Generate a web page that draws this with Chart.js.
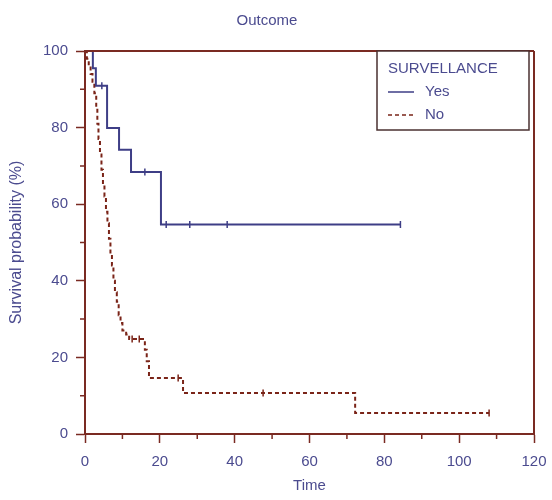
<!DOCTYPE html>
<html>
<head>
<meta charset="utf-8">
<script src="https://cdn.jsdelivr.net/npm/chart.js@4.4.0/dist/chart.umd.min.js"></script>
<style>
  body { margin: 0; background: #fff; }
  #wrap { width: 552px; height: 500px; }
</style>
</head>
<body>
<div id="wrap"><canvas id="kmChart" width="552" height="500"></canvas></div>
<script>
// Kaplan-Meier curves (time, survival %)
const yesTime = [0, 2.1, 2.9, 5.9, 9.1, 12.3, 20.3, 84.3];
const yesSurv = [100, 95.5, 90.9, 79.9, 74.2, 68.4, 54.7, 54.7];
const yesCensorTime = [4.5, 16, 21.7, 28, 38, 84.3];
const yesCensorSurv = [90.9, 68.4, 54.7, 54.7, 54.7, 54.7];

const noTime = [0, 0.5, 1, 1.5, 2, 2.5, 3, 3.3, 3.6, 4, 4.4, 4.8, 5.2, 5.6, 6, 6.4, 6.8, 7.2, 7.6, 8, 8.5, 9, 9.5, 10, 11, 11.8, 16, 16.5, 17.1, 26.2, 72.2, 108];
const noSurv = [100, 98, 96, 94, 92, 89, 85, 81, 77, 73, 69, 65, 62, 58, 55, 51, 47, 44, 40, 37, 34.5, 31, 29, 27, 26, 24.8, 22, 19, 14.6, 10.7, 5.5, 5.5];
const noCensorTime = [12.6, 14.5, 24.9, 47.6, 108];
const noCensorSurv = [24.8, 24.8, 14.6, 10.7, 5.5];

const seriesNames = ['Yes', 'No'];
const legendTitle = 'SURVELLANCE';
const chartTitle = 'Outcome';
const xTitle = 'Time';
const yTitle = 'Survival probability (%)';
const xTicks = [0, 20, 40, 60, 80, 100, 120];
const yTicks = [0, 20, 40, 60, 80, 100];

const axisColor = '#7a2a22';
const textColor = '#4b4b8f';
const yesColor = '#3e3e86';
const noColor = '#7a2418';

const pts = (xs, ys) => xs.map((x, i) => ({ x: x, y: ys[i] }));

// minor ticks, frame on top/right, and the boxed legend
const framePlugin = {
  id: 'frame',
  afterDraw(chart) {
    const c = chart.ctx;
    const a = chart.chartArea;
    const xs = chart.scales.x, ys = chart.scales.y;
    c.save();
    c.strokeStyle = axisColor;
    c.lineWidth = 2;
    c.beginPath();
    c.moveTo(a.left, a.top); c.lineTo(a.right, a.top);
    c.moveTo(a.right, a.top); c.lineTo(a.right, a.bottom);
    c.stroke();
    c.lineWidth = 1.5;
    c.beginPath();
    for (let v = 10; v < 120; v += 20) {
      const px = xs.getPixelForValue(v);
      c.moveTo(px, a.bottom); c.lineTo(px, a.bottom + 5);
    }
    for (let v = 10; v < 100; v += 20) {
      const py = ys.getPixelForValue(v);
      c.moveTo(a.left, py); c.lineTo(a.left - 5, py);
    }
    c.stroke();

    // legend box
    const bx = a.right - 157, by = a.top, bw = 152, bh = 79;
    c.fillStyle = '#fff';
    c.fillRect(bx, by, bw, bh);
    c.strokeStyle = '#4a3030';
    c.lineWidth = 1.5;
    c.strokeRect(bx, by, bw, bh);
    c.font = '15px "Liberation Sans", Arial, sans-serif';
    c.fillStyle = textColor;
    c.textBaseline = 'middle';
    c.fillText(legendTitle, bx + 11, by + 18);
    const ds = chart.data.datasets;
    [0, 1].forEach(i => {
      const ly = by + 41 + i * 23;
      c.strokeStyle = ds[i].borderColor;
      c.lineWidth = 1.5;
      c.setLineDash(ds[i].borderDash || []);
      c.beginPath();
      c.moveTo(bx + 11, ly); c.lineTo(bx + 37, ly);
      c.stroke();
      c.setLineDash([]);
      c.fillText(seriesNames[i], bx + 48, ly);
    });
    c.restore();
  }
};

new Chart(document.getElementById('kmChart'), {
  type: 'line',
  data: {
    datasets: [
      { label: seriesNames[0], data: pts(yesTime, yesSurv), stepped: true, borderColor: yesColor, borderWidth: 2, pointRadius: 0, fill: false },
      { label: seriesNames[1], data: pts(noTime, noSurv), stepped: true, borderColor: noColor, borderWidth: 2, borderDash: [4, 3], pointRadius: 0, fill: false },
      { label: 'yes-censored', data: pts(yesCensorTime, yesCensorSurv), showLine: false, pointStyle: 'line', rotation: 90, pointRadius: 3.5, borderColor: yesColor, borderWidth: 1.5 },
      { label: 'no-censored', data: pts(noCensorTime, noCensorSurv), showLine: false, pointStyle: 'line', rotation: 90, pointRadius: 3.5, borderColor: noColor, borderWidth: 1.5 }
    ]
  },
  options: {
    responsive: false,
    animation: false,
    layout: { padding: { left: 0, right: 18, top: 0, bottom: 0 } },
    plugins: {
      legend: { display: false },
      tooltip: { enabled: false },
      title: {
        display: true,
        text: chartTitle,
        color: textColor,
        font: { family: '"Liberation Sans", Arial, sans-serif', size: 15, weight: 'normal' },
        padding: { top: 12, bottom: 21 }
      }
    },
    scales: {
      x: {
        type: 'linear',
        min: 0, max: 120,
        afterBuildTicks: s => { s.ticks = xTicks.map(v => ({ value: v })); },
        afterFit: s => { s.height = 66; s.paddingLeft = 0; s.paddingRight = 0; },
        ticks: { color: textColor, padding: 10, font: { family: '"Liberation Sans", Arial, sans-serif', size: 15 } },
        grid: { drawOnChartArea: false, tickLength: 9, tickColor: axisColor, tickWidth: 1.5 },
        border: { color: axisColor, width: 2 },
        title: { display: true, text: xTitle, color: textColor, padding: { top: 0, bottom: 5 }, font: { family: '"Liberation Sans", Arial, sans-serif', size: 15 } }
      },
      y: {
        min: 0, max: 100,
        afterBuildTicks: s => { s.ticks = yTicks.map(v => ({ value: v })); },
        afterFit: s => { s.width = 85; s.paddingTop = 0; s.paddingBottom = 0; },
        ticks: { color: textColor, padding: 8, font: { family: '"Liberation Sans", Arial, sans-serif', size: 15 } },
        grid: { drawOnChartArea: false, tickLength: 9, tickColor: axisColor, tickWidth: 1.5 },
        border: { color: axisColor, width: 2 },
        title: { display: true, text: yTitle, color: textColor, padding: { top: 7, bottom: 0 }, font: { family: '"Liberation Sans", Arial, sans-serif', size: 16 } }
      }
    }
  },
  plugins: [framePlugin]
});
</script>
</body>
</html>
